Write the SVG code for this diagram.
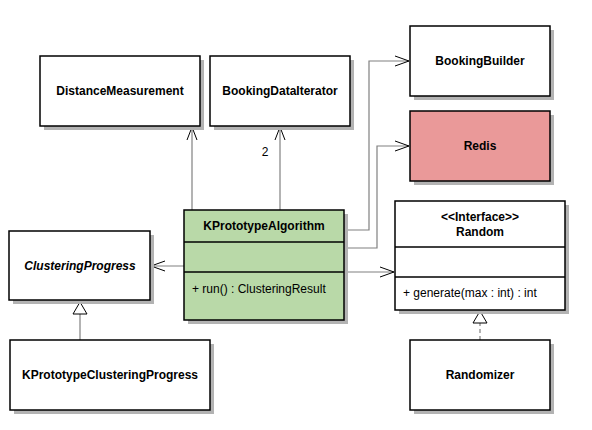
<svg xmlns="http://www.w3.org/2000/svg" width="592" height="430" viewBox="0 0 592 430">
<defs>
<style>
.box{fill:#fff;stroke:#000;stroke-width:1.5}
.sh{fill:#b3b3b3}
.t{font-family:"Liberation Sans",Arial,sans-serif;font-size:12px;font-weight:bold;text-anchor:middle;fill:#000}
.ti{font-style:italic}
.m{font-family:"Liberation Sans",Arial,sans-serif;font-size:12px;fill:#000}
.ln{fill:none;stroke:#808080;stroke-width:1.2}
.ah{fill:none;stroke:#000;stroke-width:1}
.tri{fill:#fff;stroke:#000;stroke-width:1}
.div{stroke:#000;stroke-width:1.5}
</style>
</defs>
<rect width="592" height="430" fill="#fff"/>
<g id="connectors">
<path class="ln" d="M192,210V127"/>
<path class="ah" d="M187,140L192,127L197,140"/>
<path class="ln" d="M280,210V127"/>
<path class="ah" d="M275,140L280,127L285,140"/>
<text class="m" x="265" y="156" text-anchor="middle">2</text>
<path class="ln" d="M344,230H369V61H409"/>
<path class="ah" d="M395,56L409,61L395,66"/>
<path class="ln" d="M344,248H377V146H409"/>
<path class="ah" d="M395,141L409,146L395,151"/>
<path class="ln" d="M344,272H394"/>
<path class="ah" d="M380,267L394,272L380,277"/>
<path class="ln" d="M184,266H151"/>
<path class="ah" d="M165,261L151,266L165,271"/>
<path class="ln" d="M80,340V314"/>
<path class="tri" d="M80,302L87,314H73Z"/>
<path class="ln" d="M480,340V323" stroke-dasharray="4,3"/>
<path class="tri" d="M480,311L487,323H473Z"/>
</g>
<g id="DistanceMeasurement">
<rect class="sh" x="44" y="60" width="160" height="70"/>
<rect class="box" x="40" y="56" width="160" height="70"/>
<text class="t" x="120" y="95">DistanceMeasurement</text>
</g>
<g id="BookingDataIterator">
<rect class="sh" x="214" y="60" width="140" height="70"/>
<rect class="box" x="210" y="56" width="140" height="70"/>
<text class="t" x="280" y="95">BookingDataIterator</text>
</g>
<g id="BookingBuilder">
<rect class="sh" x="414" y="30" width="140" height="70"/>
<rect class="box" x="410" y="26" width="140" height="70"/>
<text class="t" x="480" y="65">BookingBuilder</text>
</g>
<g id="Redis">
<rect class="sh" x="414" y="115" width="140" height="70"/>
<rect class="box" x="410" y="111" width="140" height="70" style="fill:#ea9999"/>
<text class="t" x="480" y="150">Redis</text>
</g>
<g id="KPrototypeAlgorithm">
<rect class="sh" x="188" y="214" width="160" height="110"/>
<rect class="box" x="184" y="210" width="160" height="110" style="fill:#b9d9a8"/>
<line class="div" x1="184" y1="242" x2="344" y2="242"/>
<line class="div" x1="184" y1="272" x2="344" y2="272"/>
<text class="t" x="264" y="230">KPrototypeAlgorithm</text>
<text class="m" x="192" y="293">+ run() : ClusteringResult</text>
</g>
<g id="Random">
<rect class="sh" x="399" y="205" width="170" height="109"/>
<rect class="box" x="395" y="201" width="170" height="109"/>
<line class="div" x1="395" y1="247" x2="565" y2="247"/>
<line class="div" x1="395" y1="277" x2="565" y2="277"/>
<text class="t" x="480" y="221">&lt;&lt;Interface&gt;&gt;</text>
<text class="t" x="480" y="236">Random</text>
<text class="m" x="403" y="297">+ generate(max : int) : int</text>
</g>
<g id="ClusteringProgress">
<rect class="sh" x="13" y="235" width="141" height="69"/>
<rect class="box" x="9" y="231" width="141" height="69"/>
<text class="t ti" x="80" y="270">ClusteringProgress</text>
</g>
<g id="KPrototypeClusteringProgress">
<rect class="sh" x="14" y="344" width="200" height="70"/>
<rect class="box" x="10" y="340" width="200" height="70"/>
<text class="t" x="110" y="379">KPrototypeClusteringProgress</text>
</g>
<g id="Randomizer">
<rect class="sh" x="414" y="344" width="140" height="70"/>
<rect class="box" x="410" y="340" width="140" height="70"/>
<text class="t" x="480" y="379">Randomizer</text>
</g>
</svg>
